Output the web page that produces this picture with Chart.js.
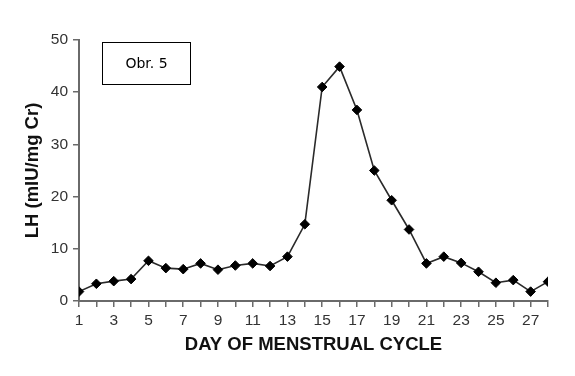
<!DOCTYPE html>
<html>
<head>
<meta charset="utf-8">
<script src="https://cdn.jsdelivr.net/npm/chart.js@4/dist/chart.umd.min.js"></script>
<style>
  html, body { margin: 0; padding: 0; background: #ffffff; }
  #wrap { width: 575px; height: 376px; }
</style>
</head>
<body>
<div id="wrap"><canvas id="c" width="575" height="376"></canvas></div>
<script>
// ---- data ----
const days = [1,2,3,4,5,6,7,8,9,10,11,12,13,14,15,16,17,18,19,20,21,22,23,24,25,26,27,28];
const lhValues = [1.8,3.3,3.8,4.2,7.7,6.3,6.1,7.2,6.0,6.8,7.2,6.7,8.5,14.7,41.0,44.9,36.6,25.0,19.3,13.7,7.2,8.5,7.3,5.6,3.5,4.0,1.8,3.7];
const yTicks = [0,10,20,30,40,50];
const xLabelDays = [1,3,5,7,9,11,13,15,17,19,21,23,25,27];
const xTitle = 'DAY OF MENSTRUAL CYCLE';
const yTitle = 'LH (mIU/mg Cr)';
const boxLabel = 'Obr. 5';

const points = days.map((d, i) => ({ x: d, y: lhValues[i] }));

const labelBox = {
  id: 'labelBox',
  afterDraw(chart) {
    const ctx = chart.ctx;
    ctx.save();
    ctx.fillStyle = '#ffffff';
    ctx.fillRect(102.5, 42.5, 88, 42);
    ctx.strokeStyle = '#000000';
    ctx.lineWidth = 1;
    ctx.strokeRect(102.5, 42.5, 88, 42);
    ctx.fillStyle = '#000000';
    ctx.font = '14px "DejaVu Sans", sans-serif';
    ctx.textAlign = 'center';
    ctx.textBaseline = 'middle';
    ctx.fillText(boxLabel, 146.5, 64);
    ctx.restore();
  }
};

const tickFont = { family: '"Liberation Sans", Arial, sans-serif', size: 15.5 };
const titleFont = { family: '"Liberation Sans", Arial, sans-serif', size: 18.5, weight: 'bold' };

new Chart(document.getElementById('c'), {
  type: 'line',
  data: {
    datasets: [{
      data: points,
      borderColor: '#2a2a2a',
      borderWidth: 1.6,
      pointStyle: 'rectRot',
      pointRadius: 4.8,
      pointBackgroundColor: '#000000',
      pointBorderColor: '#000000',
      pointBorderWidth: 1,
      tension: 0,
      fill: false
    }]
  },
  options: {
    responsive: false,
    animation: false,
    devicePixelRatio: 1,
    layout: { padding: { left: 0, right: 27, top: 40, bottom: 0 } },
    plugins: { legend: { display: false }, tooltip: { enabled: false } },
    scales: {
      x: {
        type: 'linear',
        min: 1, max: 28,
        afterFit(scale) { scale.height = 75; },
        afterBuildTicks(scale) { scale.ticks = days.map(v => ({ value: v })); },
        ticks: {
          autoSkip: false,
          maxRotation: 0,
          padding: 4,
          color: '#333333',
          font: tickFont,
          callback: (v) => xLabelDays.includes(v) ? String(v) : ''
        },
        grid: { drawOnChartArea: false, drawTicks: true, tickLength: 6, color: '#6a6a6a', lineWidth: 1.5 },
        border: { display: true, color: '#6a6a6a', width: 2 },
        title: { display: true, text: xTitle, color: '#111111', font: titleFont, padding: { top: 0, bottom: 20 } }
      },
      y: {
        min: 0, max: 50,
        afterFit(scale) { scale.width = 79; },
        afterBuildTicks(scale) { scale.ticks = yTicks.map(v => ({ value: v })); },
        ticks: { padding: 5, color: '#333333', font: tickFont },
        grid: { drawOnChartArea: false, drawTicks: true, tickLength: 6, color: '#6a6a6a', lineWidth: 1.5 },
        border: { display: true, color: '#6a6a6a', width: 2 },
        title: { display: true, text: yTitle, color: '#111111', font: titleFont, padding: { top: 22, bottom: 0 } }
      }
    }
  },
  plugins: [labelBox]
});
</script>
</body>
</html>
